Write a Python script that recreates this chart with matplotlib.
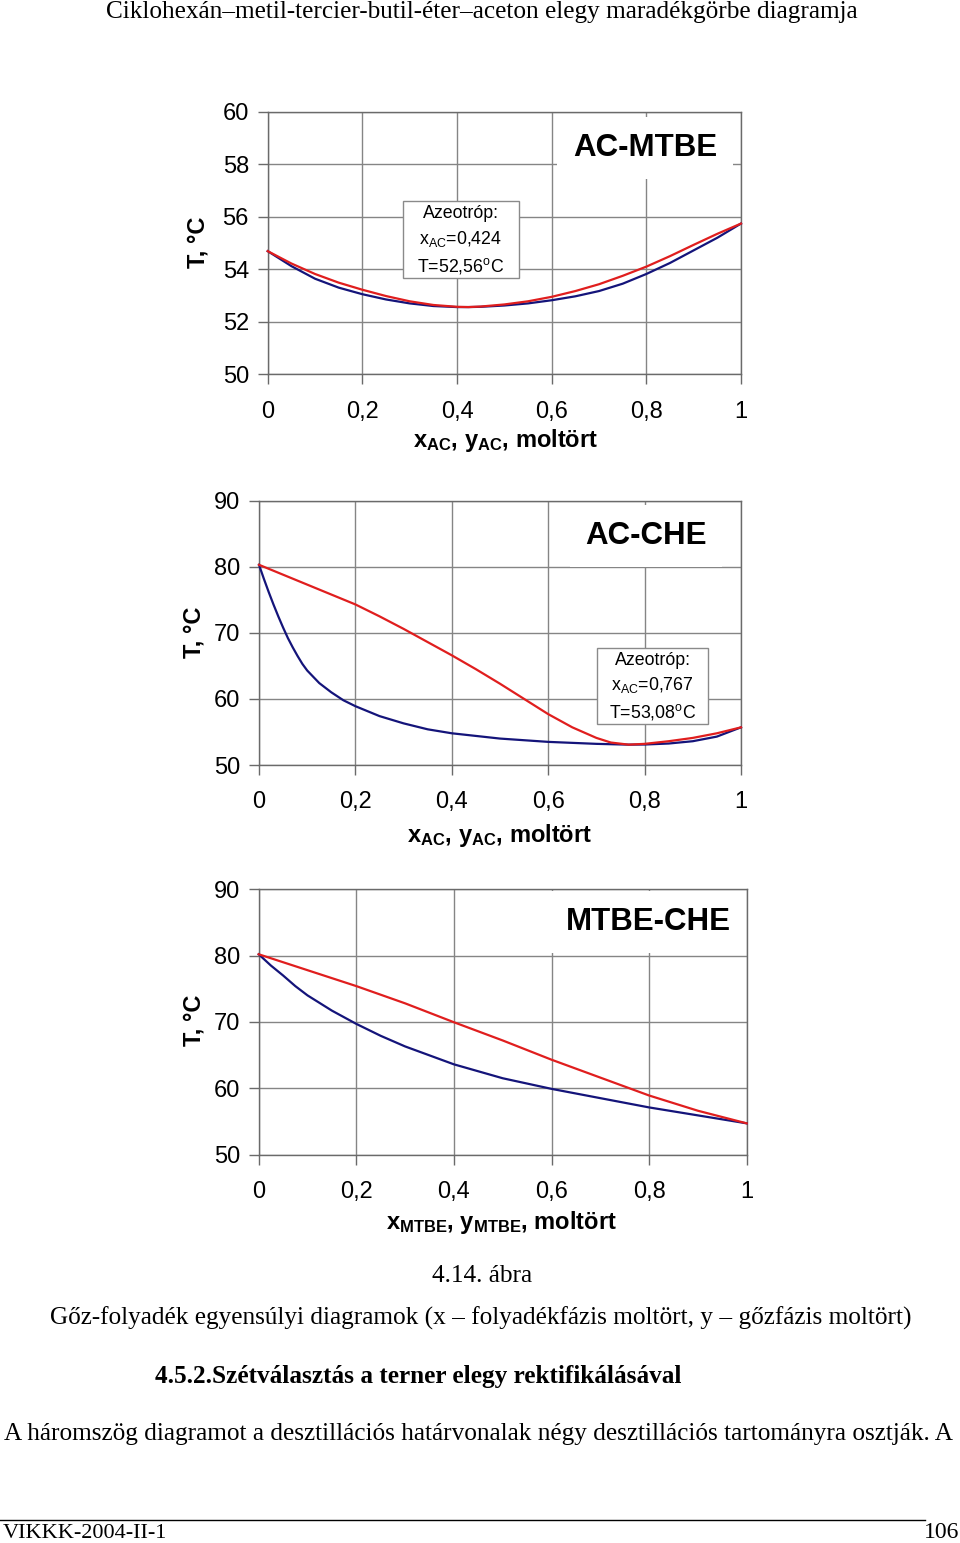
import matplotlib
matplotlib.use('Agg')
import matplotlib.pyplot as plt
from matplotlib.patches import Rectangle

W, H = 960, 1543
plt.rcParams['font.family'] = ['Liberation Sans', 'DejaVu Sans']
plt.rcParams['mathtext.fontset'] = 'custom'
plt.rcParams['mathtext.rm'] = 'Liberation Sans'
plt.rcParams['mathtext.it'] = 'Liberation Sans'
plt.rcParams['mathtext.bf'] = 'Liberation Sans:bold'

# ---------------- data ----------------
# AC-MTBE
x1_liq = [0, 0.05, 0.1, 0.15, 0.2, 0.25, 0.3, 0.35, 0.4, 0.424, 0.45, 0.5, 0.55, 0.6,
          0.65, 0.7, 0.75, 0.8, 0.85, 0.9, 0.95, 1.0]
T1_liq = [54.69, 54.12, 53.64, 53.3, 53.05, 52.85, 52.7, 52.6, 52.56, 52.56, 52.57, 52.62,
          52.7, 52.82, 52.97, 53.17, 53.45, 53.82, 54.24, 54.72, 55.2, 55.74]
x1_vap = [0, 0.05, 0.1, 0.15, 0.2, 0.25, 0.3, 0.35, 0.4, 0.424, 0.45, 0.5, 0.55, 0.6,
          0.65, 0.7, 0.75, 0.8, 0.85, 0.9, 0.95, 1.0]
T1_vap = [54.69, 54.22, 53.82, 53.49, 53.22, 52.98, 52.78, 52.64, 52.57, 52.56, 52.58, 52.66,
          52.78, 52.95, 53.17, 53.43, 53.75, 54.1, 54.5, 54.93, 55.35, 55.74]

# AC-CHE
x2_liq = [0, 0.01, 0.02, 0.03, 0.04, 0.05, 0.06, 0.07, 0.08, 0.09, 0.1, 0.125, 0.15,
          0.175, 0.2, 0.25, 0.3, 0.35, 0.4, 0.45, 0.5, 0.6, 0.7, 0.767, 0.8, 0.85, 0.9,
          0.95, 1.0]
T2_liq = [80.3, 78.2, 76.2, 74.3, 72.5, 70.8, 69.2, 67.8, 66.5, 65.3, 64.3, 62.4, 61.0,
          59.8, 58.9, 57.4, 56.3, 55.4, 54.8, 54.4, 54.0, 53.5, 53.2, 53.08, 53.1, 53.25,
          53.6, 54.3, 55.7]
x2_vap = [0, 0.05, 0.1, 0.15, 0.2, 0.25, 0.3, 0.35, 0.4, 0.45, 0.5, 0.55, 0.6, 0.65,
          0.7, 0.73, 0.767, 0.8, 0.85, 0.9, 0.95, 1.0]
T2_vap = [80.3, 78.8, 77.3, 75.8, 74.3, 72.5, 70.6, 68.6, 66.6, 64.5, 62.3, 60.0, 57.7,
          55.7, 54.1, 53.4, 53.08, 53.2, 53.6, 54.1, 54.8, 55.7]

# MTBE-CHE
x3_liq = [0, 0.025, 0.05, 0.075, 0.1, 0.15, 0.2, 0.25, 0.3, 0.4, 0.5, 0.6, 0.7, 0.8,
          0.9, 1.0]
T3_liq = [80.2, 78.5, 77.0, 75.4, 74.0, 71.7, 69.7, 67.9, 66.3, 63.6, 61.5, 59.9, 58.5,
          57.1, 55.9, 54.7]
x3_vap = [0, 0.1, 0.2, 0.3, 0.4, 0.5, 0.6, 0.7, 0.8, 0.9, 1.0]
T3_vap = [80.2, 77.8, 75.4, 72.8, 69.95, 67.2, 64.3, 61.6, 58.9, 56.6, 54.7]

x_ticks = [0, 0.2, 0.4, 0.6, 0.8, 1.0]
x_ticklabels = ['0', '0,2', '0,4', '0,6', '0,8', '1']
y1_ticks = [50, 52, 54, 56, 58, 60]
y23_ticks = [50, 60, 70, 80, 90]

titles = ['AC-MTBE', 'AC-CHE', 'MTBE-CHE']
xlabels = [r'$\mathbf{x_{AC}}$, $\mathbf{y_{AC}}$, moltört',
           r'$\mathbf{x_{AC}}$, $\mathbf{y_{AC}}$, moltört',
           r'$\mathbf{x_{MTBE}}$, $\mathbf{y_{MTBE}}$, moltört']
azeo1 = ['Azeotróp:', r'x$_\mathregular{AC}$=0,424', r'T=52,56$^\mathregular{o}$C']
azeo2 = ['Azeotróp:', r'x$_\mathregular{AC}$=0,767', r'T=53,08$^\mathregular{o}$C']

RED = '#e01e1e'
BLUE = '#14147a'
GRID = '#858585'

fig = plt.figure(figsize=(W / 100, H / 100), dpi=100)


def ftext(x, y, s, **kw):
    return fig.text(x / W, 1 - y / H, s, **kw)


def make_axes(l, t, r, b):
    return fig.add_axes([l / W, 1 - b / H, (r - l) / W, (b - t) / H])


panels = [
    dict(box=(267.7, 111.7, 741, 374.3), yl=(50, 60), yt=y1_ticks,
         liq=(x1_liq, T1_liq), vap=(x1_vap, T1_vap), tpos=(645, 148),
         ylab=(198, 242), xlab=(506, 440), azeo=azeo1, abox=(403, 201, 519, 278)),
    dict(box=(259, 500.7, 741, 765), yl=(50, 90), yt=y23_ticks,
         liq=(x2_liq, T2_liq), vap=(x2_vap, T2_vap), tpos=(646, 536),
         ylab=(194, 632), xlab=(500, 835), azeo=azeo2, abox=(597, 648, 708, 724)),
    dict(box=(258.7, 889.3, 746.7, 1154.5), yl=(50, 90), yt=y23_ticks,
         liq=(x3_liq, T3_liq), vap=(x3_vap, T3_vap), tpos=(648, 922),
         ylab=(194, 1020), xlab=(502, 1222), azeo=None, abox=None),
]

for i, p in enumerate(panels):
    ax = make_axes(*p['box'])
    ax.set_xlim(0, 1)
    ax.set_ylim(*p['yl'])
    ax.set_xticks(x_ticks)
    ax.set_xticklabels(x_ticklabels)
    ax.set_yticks(p['yt'])
    ax.set_yticklabels([str(v) for v in p['yt']])
    ax.grid(True, color=GRID, lw=1.0)
    ax.set_axisbelow(True)
    for s in ax.spines.values():
        s.set_color('#6a6a6a')
        s.set_linewidth(1.0)
    ax.tick_params(axis='both', direction='out', length=7.5, width=1.0, color='#6a6a6a',
                   labelsize=17, labelcolor='black')
    ax.tick_params(axis='x', pad=11.5)
    ax.tick_params(axis='y', pad=6)
    ax.plot(*p['liq'], color=BLUE, lw=1.6, zorder=3, clip_on=False)
    ax.plot(*p['vap'], color=RED, lw=1.6, zorder=4, clip_on=False)
    ftext(*p['tpos'], titles[i], fontsize=22.5, fontweight='bold', ha='center', va='center',
          bbox=dict(boxstyle='square,pad=0.5', fc='white', ec='none'), zorder=5)
    ftext(*p['ylab'], 'T, °C', fontsize=17, fontweight='bold', rotation=90,
          ha='center', va='center')
    ftext(*p['xlab'], xlabels[i], fontsize=17, fontweight='bold', ha='center', va='center')
    if p['azeo'] is not None:
        l, t, r, b = p['abox']
        fig.add_artist(Rectangle((l / W, 1 - b / H), (r - l) / W, (b - t) / H,
                                 transform=fig.transFigure, fc='white', ec='#8a8a8a',
                                 lw=1.0, zorder=6))
        ftext((l + r) / 2, (t + b) / 2 + 1, '\n'.join(p['azeo']), fontsize=12.8,
              ha='center', va='center', linespacing=1.45, zorder=7)

serif = ['Liberation Serif', 'DejaVu Serif']
FS = 18.2
ftext(482, 12, 'Ciklohexán–metil-tercier-butil-éter–aceton elegy maradékgörbe diagramja',
      family=serif, fontsize=FS, ha='center', va='center')
ftext(482, 1276, '4.14. ábra', family=serif, fontsize=FS, ha='center', va='center')
ftext(481, 1318, 'Gőz-folyadék egyensúlyi diagramok (x – folyadékfázis moltört, '
      'y – gőzfázis moltört)', family=serif, fontsize=FS, ha='center', va='center')
ftext(155, 1377, '4.5.2.Szétválasztás a terner elegy rektifikálásával', family=serif,
      fontsize=FS, fontweight='bold', ha='left', va='center')
ftext(4, 1434, 'A háromszög diagramot a desztillációs határvonalak négy desztillációs '
      'tartományra osztják. A', family=serif, fontsize=FS, ha='left', va='center')
fig.add_artist(plt.Line2D([0, 925 / W], [1 - 1520 / H, 1 - 1520 / H], color='black', lw=1.0))
ftext(3, 1533, 'VIKKK-2004-II-1', family=serif, fontsize=16, ha='left', va='center')
ftext(959, 1533, '106', family=serif, fontsize=17, ha='right', va='center')

fig.savefig('out.png', dpi=100)
